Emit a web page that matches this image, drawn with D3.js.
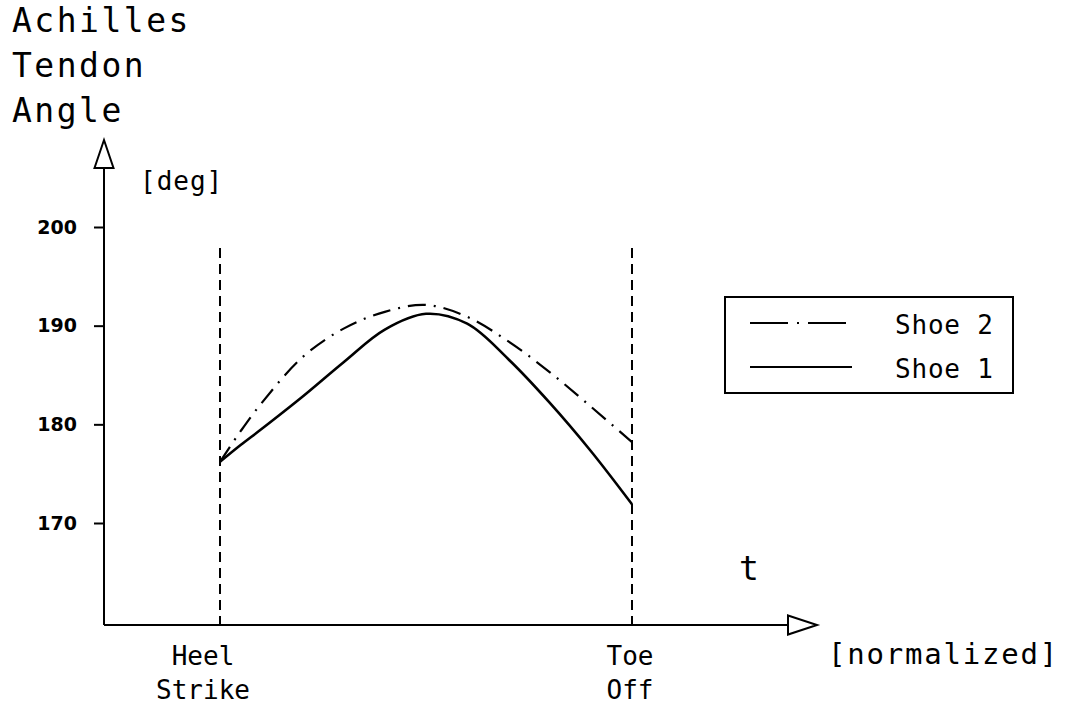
<!DOCTYPE html>
<html>
<head>
<meta charset="utf-8">
<script src="https://cdn.jsdelivr.net/npm/d3@7"></script>
<style>
  body { margin: 0; background: #fff; }
  svg { display: block; }
  .mono { font-family: "DejaVu Sans Mono", monospace; fill: #000; }
</style>
</head>
<body>
<div id="chart"></div>
<script>
// values, t = normalized stance time
var tValues = [0, 0.05, 0.1, 0.2, 0.3, 0.4, 0.5, 0.6, 0.7, 0.8, 0.9, 1];
var shoe1 = [176.2, 177.9, 179.5, 182.8, 186.3, 189.6, 191.2, 190.2, 186.6, 182.2, 177.3, 171.9];
var shoe2 = [176.2, 179.3, 182.1, 186.8, 189.7, 191.4, 192.1, 190.9, 188.4, 185.3, 181.8, 178.2];
var yTicks = [170, 180, 190, 200];
var titleLines = ["Achilles", "Tendon", "Angle"];
var seriesNames = ["Shoe 2", "Shoe 1"];
var eventLabels = [["Heel", "Strike"], ["Toe", "Off"]];

var width = 1065, height = 707;

var svg = d3.select("#chart").append("svg")
    .attr("width", width)
    .attr("height", height);

var x = d3.scaleLinear().domain([0, 1]).range([220, 632]);
var y = d3.scaleLinear().domain([170, 200]).range([523, 227]);

var axisX = 104, axisY = 625;

// title
svg.append("g").selectAll("text")
    .data(titleLines)
    .enter()
    .append("text")
    .attr("class", "mono")
    .attr("x", 12)
    .attr("y", function(d, i) { return 32 + i * 45; })
    .style("font-size", "33px")
    .style("letter-spacing", "2.5px")
    .text(function(d) { return d; });

// y axis with open arrow
svg.append("line")
    .attr("x1", axisX).attr("x2", axisX)
    .attr("y1", axisY).attr("y2", 168)
    .attr("stroke", "#000").attr("stroke-width", 2);
svg.append("path")
    .attr("d", "M" + (axisX - 9.5) + ",168 L" + axisX + ",140 L" + (axisX + 9.5) + ",168 Z")
    .attr("fill", "#fff").attr("stroke", "#000").attr("stroke-width", 2);

// x axis with open arrow
svg.append("line")
    .attr("x1", axisX).attr("x2", 788)
    .attr("y1", axisY).attr("y2", axisY)
    .attr("stroke", "#000").attr("stroke-width", 2);
svg.append("path")
    .attr("d", "M788," + (axisY - 9.5) + " L817," + axisY + " L788," + (axisY + 9.5) + " Z")
    .attr("fill", "#fff").attr("stroke", "#000").attr("stroke-width", 2);

// y ticks
var yAxis = svg.append("g")
    .attr("transform", "translate(" + axisX + ",0)")
    .call(d3.axisLeft(y).tickValues(yTicks).tickSize(10).tickPadding(17));
yAxis.select(".domain").remove();
yAxis.selectAll(".tick line").attr("stroke", "#000").attr("stroke-width", 2);
yAxis.selectAll(".tick text")
    .style("font-family", "'DejaVu Sans', sans-serif")
    .style("font-weight", "bold")
    .style("font-size", "19px")
    .attr("fill", "#000");

svg.append("text")
    .attr("class", "mono")
    .attr("x", 140).attr("y", 190)
    .style("font-size", "26px")
    .style("letter-spacing", "1px")
    .text("[deg]");

// dashed event lines
svg.append("g").selectAll("line")
    .data([0, 1])
    .enter()
    .append("line")
    .attr("x1", function(d) { return x(d); })
    .attr("x2", function(d) { return x(d); })
    .attr("y1", 248)
    .attr("y2", axisY)
    .attr("stroke", "#000")
    .attr("stroke-width", 2)
    .attr("stroke-dasharray", "10,6");

// event labels
var labelX = [203, 630];
eventLabels.forEach(function(lines, k) {
    svg.append("g").selectAll("text")
        .data(lines)
        .enter()
        .append("text")
        .attr("class", "mono")
        .attr("x", labelX[k])
        .attr("y", function(d, i) { return 665 + i * 34; })
        .attr("text-anchor", "middle")
        .style("font-size", "26px")
        .text(function(d) { return d; });
});

svg.append("text")
    .attr("class", "mono")
    .attr("x", 739).attr("y", 580)
    .style("font-size", "33px")
    .text("t");

svg.append("text")
    .attr("class", "mono")
    .attr("x", 828).attr("y", 664)
    .style("font-size", "29px")
    .style("letter-spacing", "1.8px")
    .text("[normalized]");

// curves
var line = d3.line()
    .x(function(d) { return x(d[0]); })
    .y(function(d) { return y(d[1]); })
    .curve(d3.curveCatmullRom.alpha(0.5));

svg.append("path")
    .datum(d3.zip(tValues, shoe2))
    .attr("d", line)
    .attr("fill", "none")
    .attr("stroke", "#000")
    .attr("stroke-width", 2.2)
    .attr("stroke-dasharray", "18,8,2,8");

svg.append("path")
    .datum(d3.zip(tValues, shoe1))
    .attr("d", line)
    .attr("fill", "none")
    .attr("stroke", "#000")
    .attr("stroke-width", 2.6);

// legend
var legend = svg.append("g");
legend.append("rect")
    .attr("x", 725).attr("y", 297)
    .attr("width", 288).attr("height", 96)
    .attr("fill", "none")
    .attr("stroke", "#000")
    .attr("stroke-width", 2);

var legendDash = ["38,9,2,9", null];
seriesNames.forEach(function(name, i) {
    var ly = 323 + i * 44;
    legend.append("line")
        .attr("x1", 750).attr("x2", 852)
        .attr("y1", ly).attr("y2", ly)
        .attr("stroke", "#000")
        .attr("stroke-width", 2.2)
        .attr("stroke-dasharray", legendDash[i]);
    legend.append("text")
        .attr("class", "mono")
        .attr("x", 895).attr("y", ly + 11)
        .style("font-size", "26px")
        .style("letter-spacing", "0.8px")
        .text(name);
});
</script>
</body>
</html>
